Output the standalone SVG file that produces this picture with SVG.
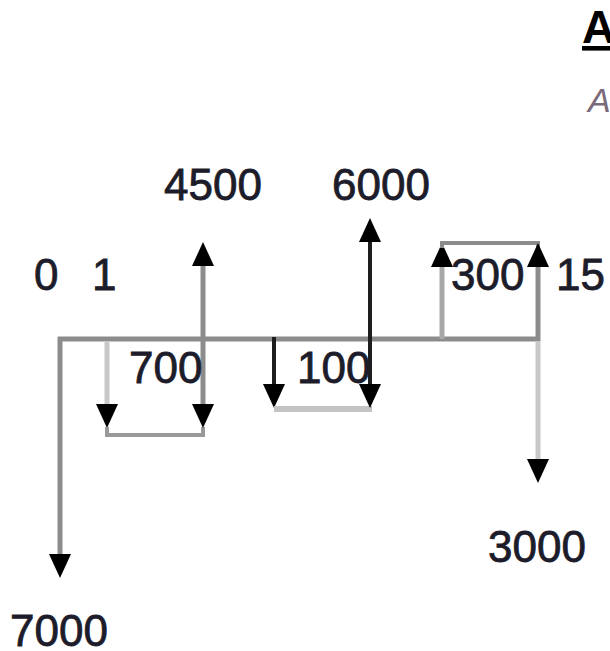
<svg xmlns="http://www.w3.org/2000/svg" width="610" height="651" viewBox="0 0 610 651">
<style>
text{font-family:"Liberation Sans",Arial,sans-serif;font-size:44px;fill:#1c1c2a;stroke:#1c1c2a;stroke-width:0.8px}
.ln{fill:none;stroke-linecap:butt}
.g1{stroke:#8c8c8c;stroke-width:5}
.g2{stroke:#c8c8c8;stroke-width:5}
.g3{stroke:#a8a8a8;stroke-width:5}
.bk{stroke:#1e1e1e;stroke-width:4}
</style>
<defs>
<marker id="ah" markerUnits="userSpaceOnUse" markerWidth="24" markerHeight="22" viewBox="0 0 24 22" refX="0" refY="11" orient="auto">
<path d="M0,0 L24,11 L0,22 z" fill="#000"/>
</marker>
</defs>
<g id="connectors">
<line id="axis" class="ln g1" x1="58" y1="339" x2="540" y2="339" stroke-width="4"/>
<line class="ln g1" x1="60" y1="337" x2="60" y2="554" marker-end="url(#ah)"/>
<line class="ln g2" x1="107" y1="341" x2="107" y2="404" marker-end="url(#ah)"/>
<polyline class="ln" points="107,427 107,435 203,435 203,427" stroke="#999" stroke-width="4"/>
<line class="ln g1" x1="203" y1="339" x2="203" y2="404" marker-end="url(#ah)"/>
<line class="ln g1" x1="203" y1="339" x2="203" y2="266" marker-end="url(#ah)"/>
<line class="ln bk" x1="274" y1="337" x2="274" y2="384" marker-end="url(#ah)"/>
<line class="ln" x1="274" y1="409" x2="372" y2="409" stroke="#c4c4c4" stroke-width="6"/>
<line class="ln bk" x1="370" y1="340" x2="370" y2="384" marker-end="url(#ah)"/>
<line class="ln bk" x1="370" y1="340" x2="370" y2="242" marker-end="url(#ah)"/>
<line class="ln g3" x1="442" y1="339" x2="442" y2="267" marker-end="url(#ah)"/>
<polyline class="ln" points="442,248 442,243 538,243 538,248" stroke="#8c8c8c" stroke-width="4"/>
<line class="ln g1" x1="538" y1="341" x2="538" y2="267" marker-end="url(#ah)"/>
<line class="ln g2" x1="538" y1="341" x2="538" y2="459" marker-end="url(#ah)"/>
</g>
<g id="labels">
<text id="t0" x="34" y="290">0</text>
<text id="t1" x="92" y="290">1</text>
<text id="t4500" x="164" y="200">4500</text>
<text id="t6000" x="332" y="200">6000</text>
<text id="t700" x="129" y="383">700</text>
<text id="t100" x="297" y="383">100</text>
<text id="t300" x="451" y="290">300</text>
<text id="t15" x="556" y="290">15</text>
<text id="t3000" x="488" y="562">3000</text>
<text id="t7000" x="10" y="646">7000</text>
</g>
<g id="header">
<text x="582" y="43" font-weight="bold" text-decoration="underline" style="font-size:46px;fill:#000;stroke:none">A</text>
<text x="588" y="112" font-style="italic" style="font-size:34px;fill:#7a6a7a;stroke:none">A</text>
</g>
</svg>
